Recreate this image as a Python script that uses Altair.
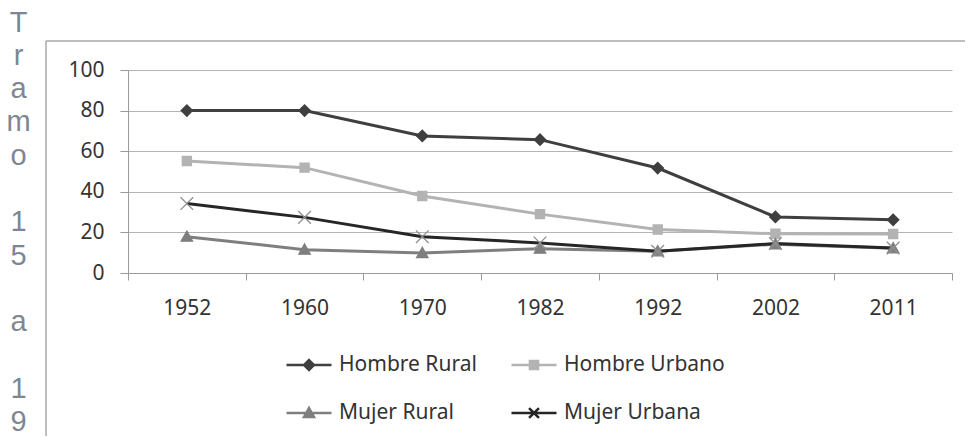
import altair as alt
import pandas as pd

years = ["1952", "1960", "1970", "1982", "1992", "2002", "2011"]
series = ["Hombre Rural", "Hombre Urbano", "Mujer Rural", "Mujer Urbana"]
hombre_rural = [80, 80, 67.5, 65.7, 51.7, 27.6, 26.2]
hombre_urbano = [55.2, 51.9, 37.9, 29.0, 21.4, 19.3, 19.2]
mujer_rural = [17.9, 11.5, 9.8, 12.0, 10.7, 14.2, 12.2]
mujer_urbana = [34.2, 27.4, 17.9, 14.8, 10.7, 14.5, 12.3]
y_ticks = [0, 20, 40, 60, 80, 100]
side_title = ["T", "r", "a", "m", "o", "\u200b", "1", "5", "\u200b", "a", "\u200b", "1", "9"]

# styles
line_colors = ["#3f3f3f", "#b3b3b3", "#7f7f7f", "#262626"]
marker_strokes = ["#3f3f3f", "#b3b3b3", "#7f7f7f", "#8f8f8f"]
marker_paths = [
    "M0,-0.9L0.9,0L0,0.9L-0.9,0Z",
    "M-0.72,-0.72H0.72V0.72H-0.72Z",
    "M0,-0.9L0.9,0.72H-0.9Z",
    "M-1,-1L1,1M1,-1L-1,1",
]
legend_paths = [
    "M-1,0H1M0,-0.22L0.22,0L0,0.22L-0.22,0Z",
    "M-1,0H1M-0.18,-0.18H0.18V0.18H-0.18Z",
    "M-1,0H1M0,-0.22L0.22,0.18H-0.22Z",
    "M-1,0H1M-0.22,-0.22L0.22,0.22M0.22,-0.22L-0.22,0.22",
]

rows = []
for name, vals in zip(series, [hombre_rural, hombre_urbano, mujer_rural, mujer_urbana]):
    for yr, v in zip(years, vals):
        rows.append({"year": yr, "value": v, "series": name})
df = pd.DataFrame(rows)

FONT = "Noto Sans"

x_enc = alt.X(
    "year:N",
    sort=years,
    scale=alt.Scale(type="band", paddingInner=0, paddingOuter=0),
    bandPosition=0.5,
    axis=alt.Axis(
        title=None,
        labelAngle=0,
        tickBand="extent",
        tickSize=7,
        tickColor="#9a9a9a",
        domainColor="#9a9a9a",
        labelFont=FONT,
        labelFontSize=21,
        labelColor="#333333",
        labelPadding=17,
        grid=False,
    ),
)
y_enc = alt.Y(
    "value:Q",
    scale=alt.Scale(domain=[0, 100]),
    axis=alt.Axis(
        values=y_ticks,
        title=side_title,
        titleAngle=0,
        titleX=-110,
        titleY=-39,
        titleAlign="center",
        titleBaseline="alphabetic",
        titleLineHeight=33.3,
        titleFont="Liberation Sans",
        titleFontSize=29,
        titleFontWeight="normal",
        titleColor="#7d8792",
        titleLimit=1000,
        tickSize=8,
        tickColor="#9a9a9a",
        domainColor="#9a9a9a",
        gridColor="#b4b4b4",
        labelFont=FONT,
        labelFontSize=21,
        labelColor="#333333",
        labelPadding=16,
    ),
)

base = alt.Chart(df)

lines = base.mark_line(strokeWidth=3).encode(
    x=x_enc,
    y=y_enc,
    color=alt.Color("series:N", scale=alt.Scale(domain=series, range=line_colors), legend=None),
)

points = base.mark_point(filled=True, size=160, strokeWidth=1.3, opacity=1).encode(
    x=x_enc,
    y=y_enc,
    shape=alt.Shape("series:N", scale=alt.Scale(domain=series, range=marker_paths), legend=None),
    fill=alt.Fill("series:N", scale=alt.Scale(domain=series, range=line_colors), legend=None),
    stroke=alt.Stroke("series:N", scale=alt.Scale(domain=series, range=marker_strokes), legend=None),
)

leg = alt.Legend(
    title=None,
    orient="none",
    direction="horizontal",
    legendX=157,
    legendY=271,
    columns=2,
    columnPadding=29,
    rowPadding=14,
    padding=0,
    symbolSize=2025,
    symbolStrokeWidth=2.5,
    labelFont=FONT,
    labelFontSize=21,
    labelColor="#333333",
    labelOffset=6,
    labelLimit=400,
)

legend_layer = base.transform_filter("false").mark_point(filled=True, opacity=1).encode(
    shape=alt.Shape("series:N", scale=alt.Scale(domain=series, range=legend_paths), legend=leg),
    fill=alt.Fill("series:N", scale=alt.Scale(domain=series, range=line_colors), legend=leg),
    stroke=alt.Stroke("series:N", scale=alt.Scale(domain=series, range=line_colors), legend=leg),
)

one = pd.DataFrame({"k": [0]})
frame_v = alt.Chart(one).mark_rule(color="#a8a8a8", strokeWidth=1.5).encode(
    x=alt.value(-82), y=alt.value(-29), y2=alt.value(420)
)
frame_h = alt.Chart(one).mark_rule(color="#a8a8a8", strokeWidth=1.5).encode(
    x=alt.value(-82), x2=alt.value(900), y=alt.value(-29)
)

chart = (
    alt.layer(frame_v, frame_h, lines, points, legend_layer)
    .resolve_scale(color="independent", fill="independent", stroke="independent", shape="independent")
    .properties(
        width=824,
        height=203,
        autosize=alt.AutoSizeParams(type="none"),
        padding={"left": 120, "top": 62, "right": 13, "bottom": 163},
        background="white",
    )
    .configure_view(stroke=None)
)

chart.save("out.html", embed_options={"renderer": "svg", "actions": False})
